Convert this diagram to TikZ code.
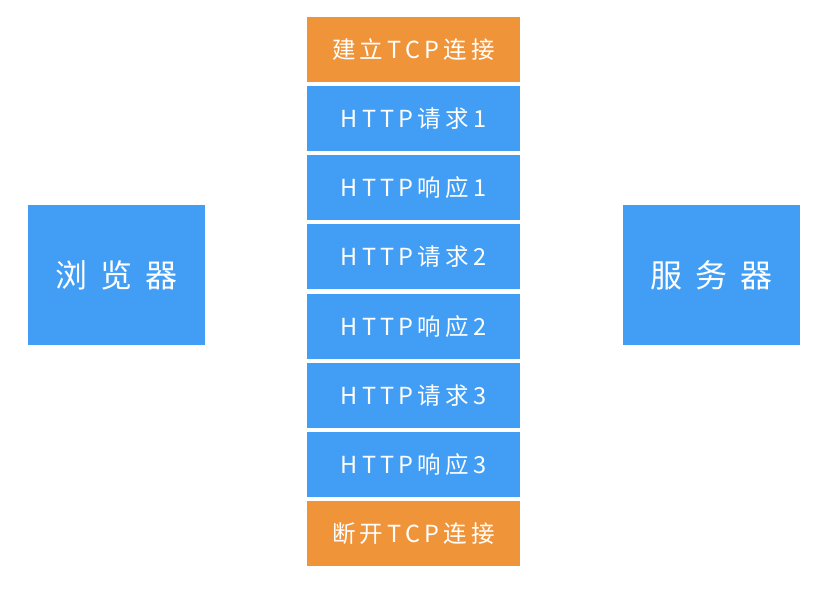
\documentclass[tikz,border=0pt]{standalone}
\usepackage{fontspec}
\setmainfont{Noto Sans CJK SC}
\newfontfamily\spacedfont[LetterSpace=18]{Noto Sans CJK SC}
\definecolor{boxblue}{RGB}{66,158,245}
\definecolor{boxorange}{RGB}{240,148,58}
\begin{document}
\begin{tikzpicture}[x=1pt,y=-1pt,
  cell/.style={draw=none,minimum width=213pt,minimum height=65pt,inner sep=0pt,text=white,font=\spacedfont\fontsize{23.5}{25}\selectfont},
  bluecell/.style={cell,fill=boxblue},
  orangecell/.style={cell,fill=boxorange},
  endbox/.style={fill=boxblue,minimum width=177pt,minimum height=140pt,inner sep=0pt,text=white,font=\fontsize{32}{34}\selectfont}]
\useasboundingbox (0,0) rectangle (825,590);
\node[orangecell] (c0) at (413.5,49.5) {建立TCP连接};
\node[bluecell] (c1) at (413.5,118.6) {HTTP请求1};
\node[bluecell] (c2) at (413.5,187.8) {HTTP响应1};
\node[bluecell] (c3) at (413.5,256.9) {HTTP请求2};
\node[bluecell] (c4) at (413.5,326.1) {HTTP响应2};
\node[bluecell] (c5) at (413.5,395.2) {HTTP请求3};
\node[bluecell] (c6) at (413.5,464.4) {HTTP响应3};
\node[orangecell] (c7) at (413.5,533.5) {断开TCP连接};
\node[endbox] (browser) at (116.5,275) {浏\hspace{13pt}览\hspace{13pt}器};
\node[endbox] (server) at (711.5,275) {服\hspace{13pt}务\hspace{13pt}器};
\end{tikzpicture}
\end{document}
